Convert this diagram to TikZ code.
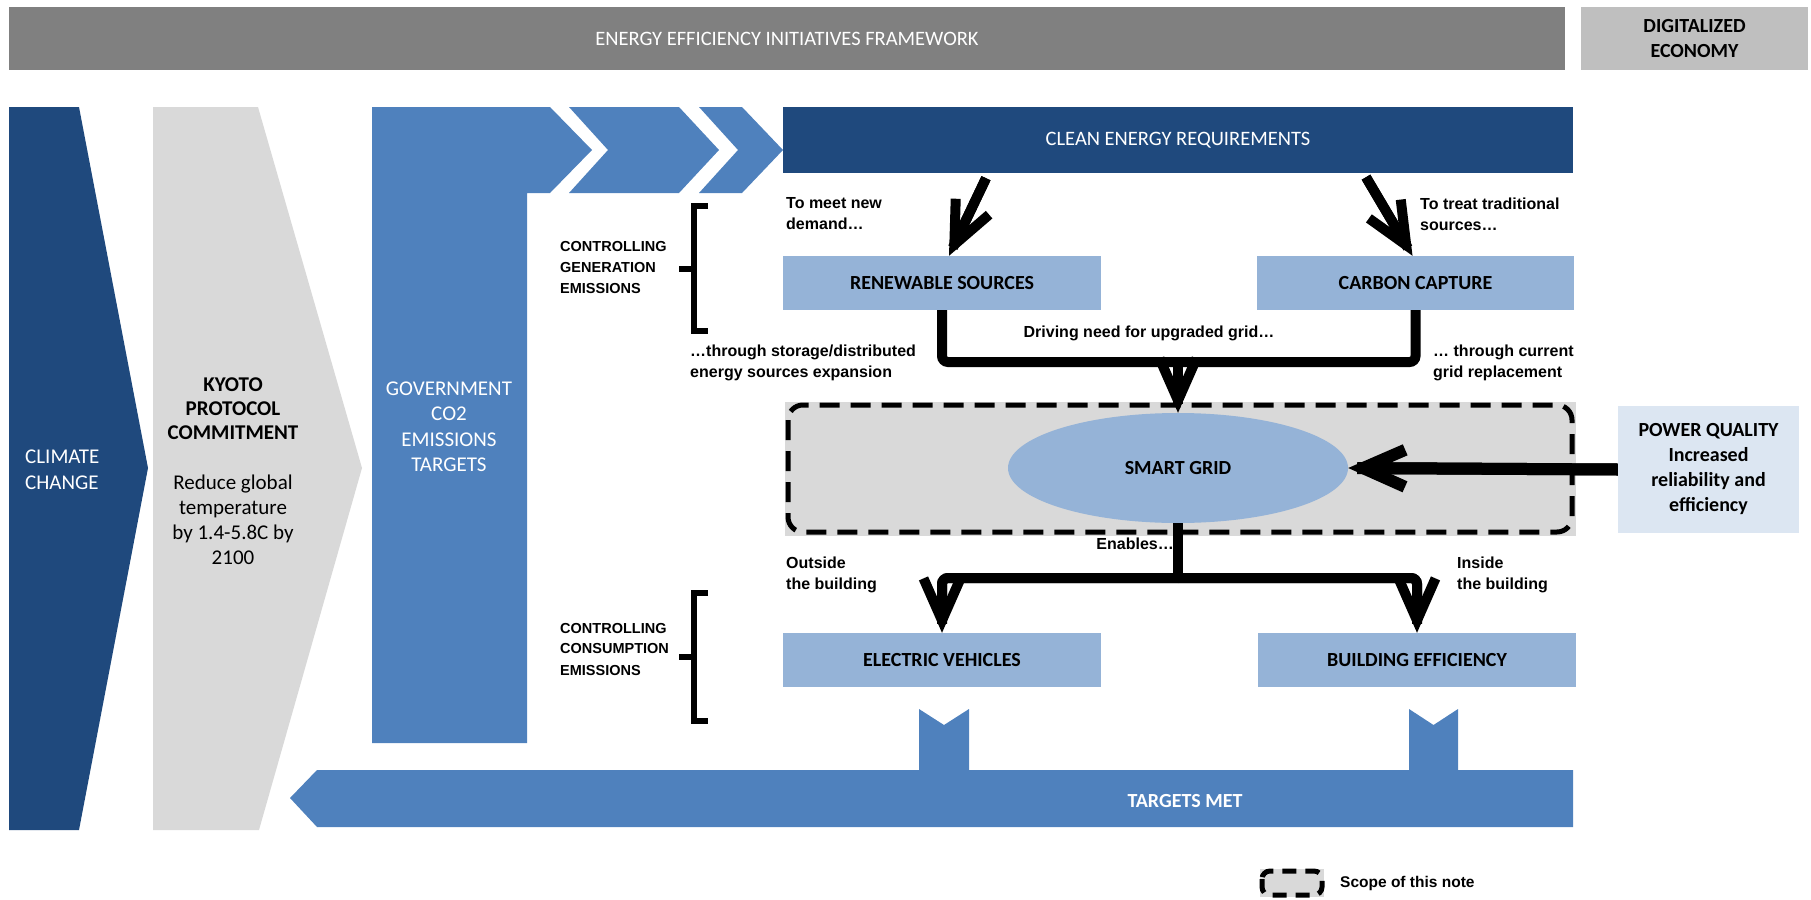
\documentclass[tikz,border=0pt]{standalone}
\usepackage{fontspec}
\setmainfont{Carlito}
\newfontfamily\arialf{Liberation Sans}
\usetikzlibrary{arrows.meta,shapes.geometric,calc}
\definecolor{dblue}{RGB}{31,73,125}
\definecolor{mblue}{RGB}{79,129,189}
\definecolor{lblue}{RGB}{149,179,215}
\definecolor{pblue}{RGB}{220,230,242}
\definecolor{lgrey}{RGB}{217,217,217}
\definecolor{hgrey}{RGB}{128,128,128}
\definecolor{dgrey}{RGB}{191,191,191}
\begin{document}
\begin{tikzpicture}[x=1pt,y=-1pt,
  cfont/.style={font=\fontsize{20.5}{25}\selectfont},
  lbox/.style={fill=lblue, inner sep=0pt, font=\fontsize{20}{25}\selectfont\bfseries},
  note/.style={font=\arialf\bfseries\fontsize{16}{21}\selectfont, align=left, inner sep=0pt},
  ctrl/.style={font=\arialf\bfseries\fontsize{14.5}{21}\selectfont, align=left, inner sep=0pt, anchor=west},
  flow/.style={line width=10pt, -{Straight Barb[length=42pt,width=37pt]}},
  shaft/.style={line width=10pt, shorten >=9pt},
  barline/.style={line width=10pt},
  brk/.style={line width=6pt},
  dashline/.style={line width=5pt, dash pattern=on 20pt off 11pt}
]
\useasboundingbox (0,0) rectangle (1811,899);

% header
\node[fill=hgrey, minimum width=1556pt, minimum height=63pt, inner sep=0pt, text=white, cfont] (hdr) at (787,38.5) {ENERGY EFFICIENCY INITIATIVES FRAMEWORK};
\node[fill=dgrey, minimum width=227pt, minimum height=63pt, inner sep=0pt, align=center, font=\fontsize{20}{25}\selectfont\bfseries] (dig) at (1694.5,38.5) {DIGITALIZED\\ECONOMY};

% left chevrons
\fill[dblue] (9,107) -- (79,107) -- (148,468) -- (79,830) -- (9,830) -- cycle;
\node[text=white, align=left, anchor=west, inner sep=0pt, font=\fontsize{21}{26}\selectfont] (clim) at (25,470) {CLIMATE\\CHANGE};
\fill[lgrey] (153,107) -- (258,107) -- (362,468) -- (259,830) -- (153,830) -- cycle;
\node[align=center, inner sep=0pt, font=\fontsize{21}{24}\selectfont\bfseries] (kyoto) at (233,409) {KYOTO\\PROTOCOL\\COMMITMENT};
\node[align=center, inner sep=0pt, font=\fontsize{21}{25}\selectfont] (kyotod) at (233,520) {Reduce global\\temperature\\by 1.4-5.8C by\\2100};

% government L shape and chevrons
\fill[mblue] (372,107) -- (550,107) -- (592,150) -- (550,193) -- (527,193) -- (527,743) -- (372,743) -- cycle;
\node[text=white, align=center, inner sep=0pt, font=\fontsize{21}{25.5}\selectfont] (gov) at (449,427) {GOVERNMENT\\CO2\\EMISSIONS\\TARGETS};
\fill[mblue] (569,107) -- (679,107) -- (719,150) -- (679,193) -- (569,193) -- (608,150) -- cycle;
\fill[mblue] (699,107) -- (742,107) -- (783,150) -- (742,193) -- (699,193) -- (738,150) -- cycle;

% clean energy
\node[fill=dblue, minimum width=790pt, minimum height=66pt, inner sep=0pt, text=white, cfont] (clean) at (1178,140) {CLEAN ENERGY REQUIREMENTS};

% generation boxes
\node[lbox, minimum width=318pt, minimum height=54pt] (ren) at (942,283) {RENEWABLE SOURCES};
\node[lbox, minimum width=317pt, minimum height=54pt] (cap) at (1415.5,283) {CARBON CAPTURE};

% brackets and control labels
\draw[brk] (708,206) -- (694,206) -- (694,331) -- (708,331);
\draw[brk] (694,269) -- (679,269);
\node[ctrl] (cgen) at (560,268) {CONTROLLING\\GENERATION\\EMISSIONS};
\draw[brk] (708,593) -- (694,593) -- (694,721) -- (708,721);
\draw[brk] (694,657) -- (679,657);
\node[ctrl] (ccon) at (560,649) {CONTROLLING\\CONSUMPTION\\EMISSIONS};

% scope box
\fill[lgrey] (785,402) rectangle (1576,536);
\draw[dashline, rounded corners=15pt] (788,405) rectangle (1572,532);
\node[ellipse, fill=lblue, minimum width=340pt, minimum height=110pt, inner sep=0pt, font=\fontsize{20}{25}\selectfont\bfseries] (sg) at (1178,468) {SMART GRID};

% power quality
\node[fill=pblue, minimum width=181pt, minimum height=127pt, inner sep=0pt, align=center, font=\fontsize{20}{25}\selectfont\bfseries] (pq) at (1708.5,469.5) {POWER QUALITY\\Increased\\reliability and\\efficiency};

% consumption boxes
\node[lbox, minimum width=318pt, minimum height=54pt] (ev) at (942,660) {ELECTRIC VEHICLES};
\node[lbox, minimum width=318pt, minimum height=54pt] (be) at (1417,660) {BUILDING EFFICIENCY};

% targets met
\fill[mblue] (290,798) -- (317,770) -- (919,770) -- (919,709) -- (944,725) -- (969,709) -- (969,770) -- (1409,770) -- (1409,709) -- (1433.5,725) -- (1458,709) -- (1458,770) -- (1573,770) -- (1573,827) -- (317,827) -- cycle;
\node[text=white, inner sep=0pt, font=\fontsize{20}{25}\selectfont\bfseries] (tm) at (1185,801) {TARGETS MET};

% connectors
\coordinate (rs) at ($(clean.south)+(-192,5)$);
\coordinate (re) at ($(ren.north)+(7,0)$);
\coordinate (cs) at ($(clean.south)+(188,4)$);
\coordinate (ce) at ($(cap.north)+(-3,0)$);
\coordinate (drv) at (1178,362);
\coordinate (en) at (1178,578);
\draw[shaft] (rs) -- (re);
\draw[flow] (rs) -- (re);
\draw[shaft] (cs) -- (ce);
\draw[flow] (cs) -- (ce);
\draw[barline, rounded corners=6pt] (ren.south) |- (drv) -| (cap.south);
\draw[shaft] (drv) -- (sg.north);
\draw[flow] (drv) -- (sg.north);
\draw[shaft, line width=12pt] (pq.west) -- (sg.east);
\draw[flow, line width=12pt] (pq.west) -- (sg.east);
\draw[barline] (sg.south) -- (en);
\draw[shaft, rounded corners=6pt] (en) -| (ev.north);
\draw[flow, rounded corners=6pt] (en) -| (ev.north);
\draw[shaft, rounded corners=6pt] (en) -| (be.north);
\draw[flow, rounded corners=6pt] (en) -| (be.north);

% notes
\node[note, anchor=west] (meet) at (786,214) {To meet new\\demand…};
\node[note, anchor=west] (treat) at (1420,214) {To treat traditional\\sources…};
\node[note, anchor=west] (stor) at (690,363) {…through storage/distributed\\energy sources expansion};
\node[note] (drive) at (1149,333) {Driving need for upgraded grid…};
\node[note, anchor=west] (curr) at (1433,363) {… through current\\grid replacement};
\node[note, anchor=east] (enab) at (1174,544) {Enables…};
\node[note, anchor=west] (outs) at (786,575) {Outside\\the building};
\node[note, anchor=west] (ins) at (1457,575) {Inside\\the building};

% legend
\fill[lgrey] (1260,869) rectangle (1324,897);
\draw[line width=5pt, dash pattern=on 14pt off 9pt, rounded corners=8pt] (1262,871) rectangle (1322,895);
\node[note, anchor=west, font=\arialf\bfseries\fontsize{15.5}{18}\selectfont] (leg) at (1340,883) {Scope of this note};
\end{tikzpicture}
\end{document}
